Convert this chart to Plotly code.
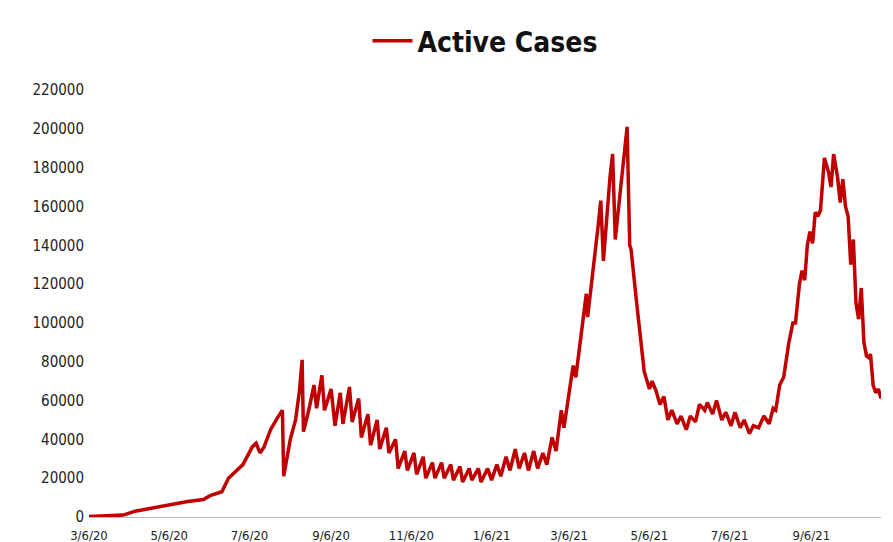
import plotly.graph_objects as go
import pandas as pd

dates = ["2020-03-06","2020-04-01","2020-04-10","2020-04-25","2020-05-06","2020-05-20","2020-06-01","2020-06-06","2020-06-15","2020-06-20","2020-07-01","2020-07-08","2020-07-11","2020-07-14","2020-07-17","2020-07-22","2020-07-28","2020-07-31","2020-08-01","2020-08-06","2020-08-10","2020-08-13","2020-08-15","2020-08-16","2020-08-20","2020-08-24","2020-08-26","2020-08-30","2020-09-01","2020-09-06","2020-09-09","2020-09-13","2020-09-15","2020-09-20","2020-09-22","2020-09-27","2020-09-29","2020-10-04","2020-10-06","2020-10-11","2020-10-13","2020-10-18","2020-10-20","2020-10-25","2020-10-27","2020-11-01","2020-11-03","2020-11-08","2020-11-10","2020-11-15","2020-11-17","2020-11-22","2020-11-24","2020-11-29","2020-12-01","2020-12-06","2020-12-08","2020-12-13","2020-12-15","2020-12-20","2020-12-22","2020-12-27","2020-12-29","2021-01-03","2021-01-06","2021-01-10","2021-01-13","2021-01-17","2021-01-20","2021-01-24","2021-01-27","2021-01-31","2021-02-03","2021-02-07","2021-02-10","2021-02-14","2021-02-17","2021-02-21","2021-02-24","2021-02-28","2021-03-02","2021-03-06","2021-03-09","2021-03-11","2021-03-15","2021-03-19","2021-03-20","2021-03-24","2021-03-28","2021-03-30","2021-04-01","2021-04-06","2021-04-08","2021-04-10","2021-04-15","2021-04-19","2021-04-21","2021-04-22","2021-04-26","2021-04-30","2021-05-02","2021-05-06","2021-05-08","2021-05-11","2021-05-14","2021-05-17","2021-05-20","2021-05-23","2021-05-27","2021-05-30","2021-06-03","2021-06-06","2021-06-10","2021-06-13","2021-06-17","2021-06-19","2021-06-23","2021-06-26","2021-06-30","2021-07-03","2021-07-07","2021-07-10","2021-07-14","2021-07-17","2021-07-21","2021-07-24","2021-07-28","2021-08-01","2021-08-05","2021-08-08","2021-08-10","2021-08-13","2021-08-16","2021-08-20","2021-08-23","2021-08-25","2021-08-28","2021-08-30","2021-09-01","2021-09-03","2021-09-05","2021-09-07","2021-09-09","2021-09-11","2021-09-13","2021-09-16","2021-09-19","2021-09-21","2021-09-23","2021-09-26","2021-09-28","2021-09-30","2021-10-02","2021-10-04","2021-10-06","2021-10-08","2021-10-10","2021-10-12","2021-10-14","2021-10-16","2021-10-18","2021-10-20","2021-10-21","2021-10-23","2021-10-25","2021-10-27","2021-10-29"]
active_k = [0.3,1,3,5,6.5,8,9,11,13,20,27,36,38,33,36,45,52,55,21,40,50,65,81,44,55,68,56,73,55,66,47,64,48,67,49,61,41,53,37,50,35,46,33,40,25,34,24,33,22,31,20,28,20,28,20,27,19,26,18,25,19,25,18,25,19,27,21,31,24,35,25,33,24,34,25,33,27,41,34,55,46,65,78,72,95,115,103,125,150,163,132,175,187,143,175,201,140,138,112,85,75,66,70,65,58,62,50,55,48,52,45,52,49,58,55,59,53,60,50,54,47,54,46,50,43,47,46,52,48,56,55,68,72,90,100,100,120,127,122,140,147,141,157,155,158,185,178,170,187,175,162,174,160,155,130,143,110,102,118,90,83,82,84,68,64,66,61]
active = [v * 1000 for v in active_k]
tick_dates = ["2020-03-06","2020-05-06","2020-07-06","2020-09-06","2020-11-06","2021-01-06","2021-03-06","2021-05-06","2021-07-06","2021-09-06"]
tick_labels = ["3/6/20","5/6/20","7/6/20","9/6/20","11/6/20","1/6/21","3/6/21","5/6/21","7/6/21","9/6/21"]
y_ticks = list(range(0, 220001, 20000))

font = "DejaVu Sans Condensed"
fig = go.Figure(go.Scatter(x=pd.to_datetime(dates), y=active, mode="lines", name="<b>Active Cases</b>",
                           line=dict(color="#C00000", width=3.5)))
fig.update_layout(
    width=893, height=542, plot_bgcolor="white", paper_bgcolor="white",
    margin=dict(l=81, r=20, t=82, b=33, autoexpand=False),
    font=dict(family=font, color="#222", size=14),
    showlegend=True,
    legend=dict(orientation="h", x=0.5, xanchor="center", yref="container", y=0.985, yanchor="top",
                font=dict(size=28, family=font, color="#111"), itemwidth=40),
)
fig.update_xaxes(tickvals=pd.to_datetime(tick_dates), ticktext=tick_labels, showgrid=False,
                 showline=True, linecolor="#bbb", linewidth=1, range=[pd.Timestamp("2020-03-06"), pd.Timestamp("2021-10-29")],
                 tickfont=dict(size=13), ticks="", ticklabelstandoff=6)
fig.update_yaxes(tickvals=y_ticks, ticktext=[str(v) for v in y_ticks], range=[0, 220000], showgrid=False,
                 zeroline=False, tickfont=dict(size=15), ticks="", ticklabelstandoff=4)
fig.write_html("out.html")
